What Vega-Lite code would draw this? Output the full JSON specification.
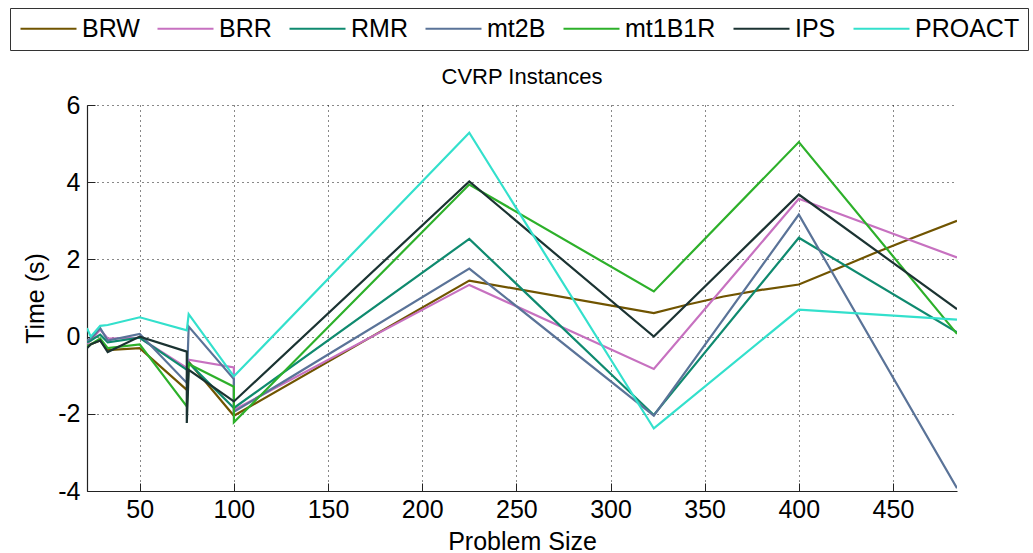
{
  "$schema": "https://vega.github.io/schema/vega-lite/v6.json",
  "width": 870,
  "height": 386,
  "autosize": {"type": "none"},
  "padding": {"left": 87, "top": 105, "right": 76, "bottom": 62},
  "background": "white",
  "title": {"text": "CVRP Instances", "fontSize": 22, "fontWeight": "normal", "font": "Liberation Sans", "color": "black", "offset": 16, "dy": 97},
  "config": {
    "view": {"stroke": null},
    "font": "Liberation Sans",
    "axis": {
      "domainColor": "#222", "domainWidth": 1.2,
      "tickColor": "#222", "tickSize": -8,
      "labelFont": "Liberation Sans", "labelFontSize": 25, "labelColor": "black",
      "titleFont": "Liberation Sans", "titleFontSize": 25, "titleFontWeight": "normal", "titleColor": "black",
      "grid": true, "gridColor": "#111", "gridDash": [1, 4], "gridWidth": 1, "gridOpacity": 1
    }
  },
  "data": {"values": [
    {"m":"BRW","i":0,"size":22,"time":-0.28},
    {"m":"BRW","i":1,"size":24,"time":-0.2},
    {"m":"BRW","i":2,"size":29,"time":-0.1},
    {"m":"BRW","i":3,"size":33,"time":-0.35},
    {"m":"BRW","i":4,"size":50,"time":-0.3},
    {"m":"BRW","i":5,"size":75,"time":-1.38},
    {"m":"BRW","i":7,"size":76,"time":-0.65},
    {"m":"BRW","i":8,"size":100,"time":-2.05},
    {"m":"BRW","i":10,"size":225,"time":1.45},
    {"m":"BRW","i":11,"size":323,"time":0.61},
    {"m":"BRW","i":12,"size":340,"time":0.82},
    {"m":"BRW","i":13,"size":360,"time":1.04},
    {"m":"BRW","i":14,"size":380,"time":1.21},
    {"m":"BRW","i":15,"size":400,"time":1.35},
    {"m":"BRW","i":16,"size":420,"time":1.75},
    {"m":"BRW","i":17,"size":440,"time":2.16},
    {"m":"BRW","i":18,"size":460,"time":2.55},
    {"m":"BRW","i":19,"size":484,"time":3.0},

    {"m":"BRR","i":0,"size":22,"time":-0.2},
    {"m":"BRR","i":1,"size":24,"time":-0.1},
    {"m":"BRR","i":2,"size":29,"time":0.18},
    {"m":"BRR","i":3,"size":33,"time":-0.05},
    {"m":"BRR","i":4,"size":50,"time":-0.03},
    {"m":"BRR","i":5,"size":75,"time":-0.81},
    {"m":"BRR","i":7,"size":76,"time":-0.6},
    {"m":"BRR","i":8,"size":100,"time":-0.8},
    {"m":"BRR","i":9,"size":100,"time":-1.9},
    {"m":"BRR","i":10,"size":225,"time":1.34},
    {"m":"BRR","i":11,"size":323,"time":-0.84},
    {"m":"BRR","i":15,"size":400,"time":3.57},
    {"m":"BRR","i":19,"size":484,"time":2.05},

    {"m":"RMR","i":0,"size":22,"time":-0.15},
    {"m":"RMR","i":1,"size":24,"time":-0.1},
    {"m":"RMR","i":2,"size":29,"time":0.05},
    {"m":"RMR","i":3,"size":33,"time":-0.15},
    {"m":"RMR","i":4,"size":50,"time":-0.03},
    {"m":"RMR","i":5,"size":75,"time":-0.86},
    {"m":"RMR","i":7,"size":76,"time":-0.68},
    {"m":"RMR","i":8,"size":100,"time":-1.85},
    {"m":"RMR","i":10,"size":225,"time":2.53},
    {"m":"RMR","i":11,"size":323,"time":-2.03},
    {"m":"RMR","i":15,"size":400,"time":2.56},
    {"m":"RMR","i":19,"size":484,"time":0.11},

    {"m":"mt2B","i":0,"size":22,"time":-0.1},
    {"m":"mt2B","i":1,"size":24,"time":-0.05},
    {"m":"mt2B","i":2,"size":29,"time":0.22},
    {"m":"mt2B","i":3,"size":33,"time":-0.1},
    {"m":"mt2B","i":4,"size":50,"time":0.07},
    {"m":"mt2B","i":5,"size":75,"time":-1.2},
    {"m":"mt2B","i":7,"size":76,"time":0.26},
    {"m":"mt2B","i":8,"size":100,"time":-1.1},
    {"m":"mt2B","i":9,"size":100,"time":-1.95},
    {"m":"mt2B","i":10,"size":225,"time":1.76},
    {"m":"mt2B","i":11,"size":323,"time":-2.05},
    {"m":"mt2B","i":15,"size":400,"time":3.16},
    {"m":"mt2B","i":19,"size":484,"time":-3.93},

    {"m":"mt1B1R","i":0,"size":22,"time":-0.25},
    {"m":"mt1B1R","i":1,"size":24,"time":-0.2},
    {"m":"mt1B1R","i":2,"size":29,"time":-0.05},
    {"m":"mt1B1R","i":3,"size":33,"time":-0.3},
    {"m":"mt1B1R","i":4,"size":50,"time":-0.2},
    {"m":"mt1B1R","i":5,"size":75,"time":-1.81},
    {"m":"mt1B1R","i":7,"size":76,"time":-0.71},
    {"m":"mt1B1R","i":8,"size":100,"time":-1.3},
    {"m":"mt1B1R","i":9,"size":100,"time":-2.22},
    {"m":"mt1B1R","i":10,"size":225,"time":3.94},
    {"m":"mt1B1R","i":11,"size":323,"time":1.17},
    {"m":"mt1B1R","i":15,"size":400,"time":5.04},
    {"m":"mt1B1R","i":19,"size":484,"time":0.07},

    {"m":"IPS","i":0,"size":22,"time":-0.3},
    {"m":"IPS","i":1,"size":24,"time":-0.2},
    {"m":"IPS","i":2,"size":29,"time":-0.1},
    {"m":"IPS","i":3,"size":33,"time":-0.4},
    {"m":"IPS","i":4,"size":50,"time":0.0},
    {"m":"IPS","i":5,"size":75,"time":-0.39},
    {"m":"IPS","i":6,"size":75,"time":-2.24},
    {"m":"IPS","i":7,"size":76,"time":-0.86},
    {"m":"IPS","i":8,"size":100,"time":-1.68},
    {"m":"IPS","i":10,"size":225,"time":4.02},
    {"m":"IPS","i":11,"size":323,"time":0.0},
    {"m":"IPS","i":15,"size":400,"time":3.68},
    {"m":"IPS","i":19,"size":484,"time":0.71},

    {"m":"PROACT","i":0,"size":22,"time":0.22},
    {"m":"PROACT","i":1,"size":24,"time":0.0},
    {"m":"PROACT","i":2,"size":29,"time":0.28},
    {"m":"PROACT","i":3,"size":33,"time":0.3},
    {"m":"PROACT","i":4,"size":50,"time":0.5},
    {"m":"PROACT","i":5,"size":75,"time":0.16},
    {"m":"PROACT","i":7,"size":76,"time":0.58},
    {"m":"PROACT","i":8,"size":100,"time":-1.03},
    {"m":"PROACT","i":10,"size":225,"time":5.28},
    {"m":"PROACT","i":11,"size":323,"time":-2.38},
    {"m":"PROACT","i":15,"size":400,"time":0.7},
    {"m":"PROACT","i":19,"size":484,"time":0.44}
  ]},
  "mark": {"type": "line", "strokeWidth": 2.2, "clip": true},
  "encoding": {
    "x": {"field": "size", "type": "quantitative", "scale": {"domain": [22, 484], "nice": false, "zero": false},
          "axis": {"title": "Problem Size", "values": [50,100,150,200,250,300,350,400,450], "labelPadding": 14, "titlePadding": 7}},
    "y": {"field": "time", "type": "quantitative", "scale": {"domain": [-4, 6], "nice": false, "zero": false},
          "axis": {"title": "Time (s)", "values": [-4,-2,0,2,4,6], "labelPadding": 15, "titlePadding": 9,
                   "labelExpr": "replace(datum.label, '\u2212', '-')"}},
    "order": {"field": "i"},
    "color": {"field": "m", "type": "nominal",
      "scale": {"domain": ["BRW","BRR","RMR","mt2B","mt1B1R","IPS","PROACT"],
                "range": ["#705400","#c771c0","#0f8a6f","#5a7398","#2db02a","#1b3332","#33e0cc"]},
      "legend": {"title": null, "orient": "none", "legendX": -77, "legendY": -97, "direction": "horizontal", "columns": 7,
        "symbolType": "M-2.8,0H2.8", "symbolSize": 400, "symbolOffset": 18, "symbolStrokeWidth": 2.2, "labelFontSize": 25, "labelFont": "Liberation Sans", "labelColor": "black",
        "labelOffset": 21, "columnPadding": 13, "padding": 8, "strokeColor": "#333", "fillColor": "white"}}
  }
}
